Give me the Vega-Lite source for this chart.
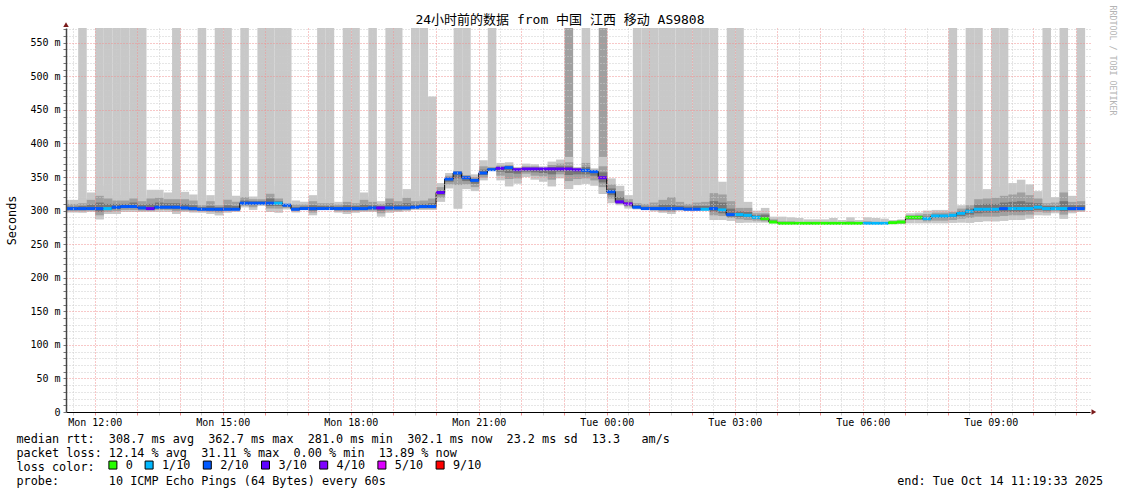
{
"$schema": "https://vega.github.io/schema/vega-lite/v6.json",
"width": 1024, "height": 384,
"autosize": {"type": "none"},
"padding": {"left": 66, "top": 28, "right": 31, "bottom": 82},
"background": "white",
"title": {"text": "24小时前的数据 from 中国 江西 移动 AS9808", "font": "DejaVu Sans Mono, Noto Sans CJK SC", "fontSize": 13, "fontWeight": "normal", "color": "#000", "anchor": "middle", "frame": "group", "dx": -18, "dy": 24, "offset": 2},
"config": {"view": {"stroke": null}},
"datasets": {"s": [
{"t":"2025-10-13T11:12","m":303,"L":2,"a":297,"b":316,"c":299,"d":310,"e":301,"f":306,"T":0},
{"t":"2025-10-13T11:24","m":303,"L":2,"a":297,"b":316,"c":299,"d":310,"e":301,"f":306,"T":0},
{"t":"2025-10-13T11:36","m":303,"L":2,"a":297,"b":318,"c":299,"d":311,"e":301,"f":307,"T":1},
{"t":"2025-10-13T11:48","m":303,"L":2,"a":298,"b":327,"c":300,"d":316,"e":302,"f":309,"T":0},
{"t":"2025-10-13T12:00","m":303,"L":2,"a":287,"b":337,"c":293,"d":322,"e":298,"f":312,"T":1},
{"t":"2025-10-13T12:12","m":303,"L":1,"a":295,"b":331,"c":298,"d":318,"e":301,"f":310,"T":1},
{"t":"2025-10-13T12:24","m":305,"L":2,"a":295,"b":323,"c":299,"d":315,"e":302,"f":310,"T":1},
{"t":"2025-10-13T12:36","m":306,"L":2,"a":298,"b":323,"c":301,"d":315,"e":304,"f":310,"T":1},
{"t":"2025-10-13T12:48","m":306,"L":2,"a":298,"b":328,"c":301,"d":318,"e":304,"f":312,"T":1},
{"t":"2025-10-13T13:00","m":304,"L":2,"a":298,"b":323,"c":300,"d":314,"e":302,"f":309,"T":1},
{"t":"2025-10-13T13:12","m":303,"L":3,"a":298,"b":331,"c":300,"d":318,"e":302,"f":310,"T":0},
{"t":"2025-10-13T13:24","m":305,"L":2,"a":298,"b":331,"c":301,"d":319,"e":303,"f":312,"T":0},
{"t":"2025-10-13T13:36","m":305,"L":2,"a":298,"b":327,"c":301,"d":317,"e":303,"f":311,"T":0},
{"t":"2025-10-13T13:48","m":305,"L":2,"a":295,"b":327,"c":299,"d":317,"e":302,"f":311,"T":1},
{"t":"2025-10-13T14:00","m":304,"L":2,"a":298,"b":328,"c":300,"d":317,"e":302,"f":310,"T":0},
{"t":"2025-10-13T14:12","m":303,"L":2,"a":297,"b":324,"c":299,"d":315,"e":301,"f":308,"T":0},
{"t":"2025-10-13T14:24","m":302,"L":2,"a":297,"b":312,"c":299,"d":308,"e":301,"f":305,"T":1},
{"t":"2025-10-13T14:36","m":302,"L":2,"a":295,"b":323,"c":298,"d":314,"e":300,"f":307,"T":0},
{"t":"2025-10-13T14:48","m":302,"L":2,"a":293,"b":312,"c":297,"d":308,"e":299,"f":305,"T":1},
{"t":"2025-10-13T15:00","m":302,"L":2,"a":297,"b":327,"c":299,"d":316,"e":301,"f":308,"T":1},
{"t":"2025-10-13T15:12","m":302,"L":2,"a":298,"b":322,"c":300,"d":313,"e":301,"f":307,"T":0},
{"t":"2025-10-13T15:24","m":311,"L":2,"a":305,"b":328,"c":307,"d":320,"e":309,"f":315,"T":1},
{"t":"2025-10-13T15:36","m":311,"L":2,"a":301,"b":321,"c":305,"d":317,"e":308,"f":314,"T":0},
{"t":"2025-10-13T15:48","m":311,"L":2,"a":307,"b":321,"c":309,"d":317,"e":310,"f":314,"T":1},
{"t":"2025-10-13T16:00","m":311,"L":2,"a":298,"b":337,"c":303,"d":325,"e":307,"f":318,"T":1},
{"t":"2025-10-13T16:12","m":311,"L":1,"a":297,"b":323,"c":303,"d":318,"e":307,"f":314,"T":1},
{"t":"2025-10-13T16:24","m":308,"L":2,"a":302,"b":311,"c":304,"d":310,"e":306,"f":309,"T":1},
{"t":"2025-10-13T16:36","m":302,"L":2,"a":297,"b":315,"c":299,"d":309,"e":301,"f":305,"T":0},
{"t":"2025-10-13T16:48","m":303,"L":2,"a":302,"b":313,"c":302,"d":309,"e":303,"f":306,"T":0},
{"t":"2025-10-13T17:00","m":303,"L":2,"a":293,"b":323,"c":297,"d":314,"e":300,"f":308,"T":0},
{"t":"2025-10-13T17:12","m":303,"L":2,"a":302,"b":317,"c":302,"d":311,"e":303,"f":307,"T":1},
{"t":"2025-10-13T17:24","m":303,"L":2,"a":301,"b":315,"c":302,"d":311,"e":302,"f":307,"T":1},
{"t":"2025-10-13T17:36","m":303,"L":2,"a":297,"b":313,"c":299,"d":309,"e":301,"f":306,"T":0},
{"t":"2025-10-13T17:48","m":303,"L":2,"a":295,"b":322,"c":298,"d":313,"e":301,"f":308,"T":1},
{"t":"2025-10-13T18:00","m":303,"L":2,"a":297,"b":317,"c":299,"d":311,"e":301,"f":307,"T":1},
{"t":"2025-10-13T18:12","m":303,"L":2,"a":298,"b":327,"c":300,"d":316,"e":302,"f":309,"T":0},
{"t":"2025-10-13T18:24","m":304,"L":2,"a":298,"b":321,"c":300,"d":313,"e":302,"f":308,"T":1},
{"t":"2025-10-13T18:36","m":304,"L":3,"a":291,"b":314,"c":296,"d":310,"e":300,"f":307,"T":0},
{"t":"2025-10-13T18:48","m":304,"L":2,"a":297,"b":330,"c":300,"d":318,"e":302,"f":311,"T":1},
{"t":"2025-10-13T19:00","m":304,"L":2,"a":298,"b":323,"c":300,"d":314,"e":302,"f":309,"T":1},
{"t":"2025-10-13T19:12","m":304,"L":2,"a":299,"b":332,"c":301,"d":319,"e":303,"f":311,"T":0},
{"t":"2025-10-13T19:24","m":305,"L":2,"a":301,"b":321,"c":303,"d":314,"e":304,"f":309,"T":1},
{"t":"2025-10-13T19:36","m":306,"L":2,"a":301,"b":322,"c":303,"d":315,"e":305,"f":310,"T":1},
{"t":"2025-10-13T19:48","m":306,"L":2,"a":301,"b":470,"c":303,"d":318,"e":305,"f":311,"T":0},
{"t":"2025-10-13T20:00","m":327,"L":3,"a":313,"b":341,"c":319,"d":335,"e":323,"f":330,"T":0},
{"t":"2025-10-13T20:12","m":347,"L":2,"a":333,"b":356,"c":339,"d":352,"e":343,"f":349,"T":0},
{"t":"2025-10-13T20:24","m":356,"L":2,"a":303,"b":361,"c":338,"d":359,"e":348,"f":357,"T":1},
{"t":"2025-10-13T20:36","m":349,"L":2,"a":332,"b":356,"c":339,"d":353,"e":344,"f":351,"T":1},
{"t":"2025-10-13T20:48","m":345,"L":2,"a":329,"b":354,"c":335,"d":350,"e":340,"f":347,"T":0},
{"t":"2025-10-13T21:00","m":356,"L":2,"a":345,"b":375,"c":349,"d":366,"e":353,"f":361,"T":0},
{"t":"2025-10-13T21:12","m":361,"L":2,"a":359,"b":368,"c":360,"d":365,"e":360,"f":363,"T":1},
{"t":"2025-10-13T21:24","m":363,"L":3,"a":345,"b":371,"c":352,"d":367,"e":358,"f":365,"T":0},
{"t":"2025-10-13T21:36","m":364,"L":2,"a":336,"b":372,"c":347,"d":368,"e":356,"f":366,"T":0},
{"t":"2025-10-13T21:48","m":361,"L":3,"a":340,"b":365,"c":348,"d":363,"e":355,"f":362,"T":0},
{"t":"2025-10-13T22:00","m":362,"L":3,"a":350,"b":370,"c":355,"d":366,"e":358,"f":364,"T":0},
{"t":"2025-10-13T22:12","m":362,"L":3,"a":346,"b":369,"c":352,"d":366,"e":357,"f":364,"T":0},
{"t":"2025-10-13T22:24","m":362,"L":3,"a":343,"b":366,"c":351,"d":364,"e":356,"f":363,"T":0},
{"t":"2025-10-13T22:36","m":362,"L":3,"a":336,"b":373,"c":346,"d":368,"e":354,"f":365,"T":0},
{"t":"2025-10-13T22:48","m":362,"L":3,"a":348,"b":376,"c":354,"d":370,"e":358,"f":366,"T":0},
{"t":"2025-10-13T23:00","m":362,"L":3,"a":332,"b":380,"c":344,"d":372,"e":353,"f":366,"T":2},
{"t":"2025-10-13T23:12","m":361,"L":3,"a":338,"b":365,"c":347,"d":363,"e":354,"f":362,"T":0},
{"t":"2025-10-13T23:24","m":360,"L":2,"a":340,"b":380,"c":348,"d":371,"e":354,"f":365,"T":1},
{"t":"2025-10-13T23:36","m":358,"L":2,"a":337,"b":363,"c":345,"d":361,"e":352,"f":359,"T":0},
{"t":"2025-10-13T23:48","m":349,"L":3,"a":325,"b":380,"c":335,"d":366,"e":342,"f":357,"T":2},
{"t":"2025-10-14T00:00","m":328,"L":2,"a":311,"b":348,"c":318,"d":339,"e":323,"f":333,"T":0},
{"t":"2025-10-14T00:12","m":313,"L":3,"a":308,"b":337,"c":310,"d":329,"e":312,"f":320,"T":0},
{"t":"2025-10-14T00:24","m":310,"L":4,"a":303,"b":323,"c":306,"d":317,"e":308,"f":313,"T":0},
{"t":"2025-10-14T00:36","m":305,"L":2,"a":302,"b":316,"c":304,"d":311,"e":304,"f":308,"T":1},
{"t":"2025-10-14T00:48","m":303,"L":2,"a":302,"b":315,"c":302,"d":310,"e":303,"f":306,"T":1},
{"t":"2025-10-14T01:00","m":303,"L":2,"a":299,"b":315,"c":301,"d":312,"e":302,"f":306,"T":1},
{"t":"2025-10-14T01:12","m":303,"L":2,"a":297,"b":320,"c":299,"d":316,"e":301,"f":309,"T":1},
{"t":"2025-10-14T01:24","m":303,"L":2,"a":295,"b":326,"c":298,"d":320,"e":301,"f":309,"T":1},
{"t":"2025-10-14T01:36","m":303,"L":2,"a":300,"b":319,"c":301,"d":313,"e":302,"f":307,"T":1},
{"t":"2025-10-14T01:48","m":302,"L":2,"a":300,"b":317,"c":301,"d":310,"e":301,"f":306,"T":1},
{"t":"2025-10-14T02:00","m":302,"L":2,"a":300,"b":320,"c":301,"d":312,"e":301,"f":307,"T":1},
{"t":"2025-10-14T02:12","m":302,"L":1,"a":300,"b":322,"c":301,"d":313,"e":301,"f":307,"T":1},
{"t":"2025-10-14T02:24","m":303,"L":2,"a":286,"b":345,"c":293,"d":326,"e":298,"f":314,"T":1},
{"t":"2025-10-14T02:36","m":301,"L":1,"a":286,"b":343,"c":292,"d":324,"e":296,"f":312,"T":0},
{"t":"2025-10-14T02:48","m":294,"L":2,"a":285,"b":330,"c":289,"d":314,"e":291,"f":303,"T":1},
{"t":"2025-10-14T03:00","m":294,"L":1,"a":282,"b":313,"c":287,"d":304,"e":290,"f":299,"T":1},
{"t":"2025-10-14T03:12","m":293,"L":1,"a":282,"b":313,"c":286,"d":304,"e":290,"f":298,"T":0},
{"t":"2025-10-14T03:24","m":290,"L":1,"a":282,"b":300,"c":285,"d":296,"e":288,"f":293,"T":0},
{"t":"2025-10-14T03:36","m":288,"L":0,"a":282,"b":304,"c":284,"d":296,"e":286,"f":294,"T":0},
{"t":"2025-10-14T03:48","m":283,"L":0,"a":281,"b":291,"c":282,"d":287,"e":282,"f":285,"T":0},
{"t":"2025-10-14T04:00","m":281,"L":0,"a":280,"b":291,"c":280,"d":284,"e":280,"f":282,"T":0},
{"t":"2025-10-14T04:12","m":281,"L":0,"a":280,"b":290,"c":280,"d":284,"e":280,"f":282,"T":0},
{"t":"2025-10-14T04:24","m":281,"L":0,"a":280,"b":289,"c":280,"d":283,"e":280,"f":282,"T":0},
{"t":"2025-10-14T04:36","m":281,"L":0,"a":280,"b":287,"c":280,"d":283,"e":280,"f":282,"T":0},
{"t":"2025-10-14T04:48","m":281,"L":0,"a":280,"b":287,"c":280,"d":283,"e":280,"f":282,"T":0},
{"t":"2025-10-14T05:00","m":281,"L":0,"a":280,"b":287,"c":280,"d":283,"e":280,"f":282,"T":0},
{"t":"2025-10-14T05:12","m":281,"L":0,"a":280,"b":289,"c":280,"d":283,"e":280,"f":282,"T":0},
{"t":"2025-10-14T05:24","m":281,"L":0,"a":280,"b":286,"c":280,"d":283,"e":280,"f":282,"T":0},
{"t":"2025-10-14T05:36","m":281,"L":0,"a":280,"b":290,"c":280,"d":284,"e":280,"f":282,"T":0},
{"t":"2025-10-14T05:48","m":281,"L":0,"a":280,"b":286,"c":280,"d":283,"e":280,"f":282,"T":0},
{"t":"2025-10-14T06:00","m":281,"L":1,"a":280,"b":290,"c":280,"d":284,"e":280,"f":282,"T":0},
{"t":"2025-10-14T06:12","m":281,"L":1,"a":280,"b":289,"c":280,"d":283,"e":280,"f":282,"T":0},
{"t":"2025-10-14T06:24","m":281,"L":1,"a":280,"b":288,"c":280,"d":283,"e":280,"f":282,"T":0},
{"t":"2025-10-14T06:36","m":282,"L":0,"a":280,"b":286,"c":281,"d":284,"e":281,"f":283,"T":0},
{"t":"2025-10-14T06:48","m":283,"L":0,"a":280,"b":287,"c":281,"d":285,"e":282,"f":284,"T":0},
{"t":"2025-10-14T07:00","m":290,"L":0,"a":281,"b":296,"c":286,"d":293,"e":287,"f":292,"T":0},
{"t":"2025-10-14T07:12","m":290,"L":0,"a":281,"b":297,"c":286,"d":294,"e":287,"f":292,"T":0},
{"t":"2025-10-14T07:24","m":288,"L":1,"a":281,"b":300,"c":284,"d":295,"e":286,"f":291,"T":0},
{"t":"2025-10-14T07:36","m":292,"L":1,"a":281,"b":301,"c":285,"d":297,"e":289,"f":294,"T":0},
{"t":"2025-10-14T07:48","m":292,"L":1,"a":281,"b":301,"c":285,"d":297,"e":289,"f":294,"T":0},
{"t":"2025-10-14T08:00","m":293,"L":1,"a":282,"b":301,"c":286,"d":298,"e":290,"f":295,"T":1},
{"t":"2025-10-14T08:12","m":296,"L":1,"a":282,"b":308,"c":288,"d":303,"e":292,"f":299,"T":0},
{"t":"2025-10-14T08:24","m":299,"L":1,"a":282,"b":316,"c":289,"d":308,"e":294,"f":303,"T":1},
{"t":"2025-10-14T08:36","m":302,"L":1,"a":283,"b":330,"c":291,"d":317,"e":296,"f":309,"T":1},
{"t":"2025-10-14T08:48","m":302,"L":1,"a":284,"b":332,"c":291,"d":318,"e":297,"f":310,"T":0},
{"t":"2025-10-14T09:00","m":302,"L":1,"a":284,"b":335,"c":291,"d":319,"e":297,"f":310,"T":1},
{"t":"2025-10-14T09:12","m":303,"L":2,"a":285,"b":338,"c":292,"d":322,"e":298,"f":312,"T":1},
{"t":"2025-10-14T09:24","m":303,"L":1,"a":286,"b":341,"c":293,"d":324,"e":298,"f":313,"T":0},
{"t":"2025-10-14T09:36","m":303,"L":1,"a":286,"b":346,"c":293,"d":327,"e":298,"f":314,"T":0},
{"t":"2025-10-14T09:48","m":303,"L":1,"a":288,"b":339,"c":294,"d":323,"e":299,"f":312,"T":0},
{"t":"2025-10-14T10:00","m":305,"L":1,"a":293,"b":329,"c":298,"d":318,"e":301,"f":311,"T":0},
{"t":"2025-10-14T10:12","m":303,"L":1,"a":293,"b":317,"c":297,"d":311,"e":300,"f":307,"T":1},
{"t":"2025-10-14T10:24","m":303,"L":1,"a":296,"b":320,"c":299,"d":312,"e":301,"f":307,"T":0},
{"t":"2025-10-14T10:36","m":303,"L":1,"a":288,"b":346,"c":294,"d":327,"e":299,"f":314,"T":1},
{"t":"2025-10-14T10:48","m":303,"L":2,"a":296,"b":322,"c":299,"d":313,"e":301,"f":308,"T":0},
{"t":"2025-10-14T11:00","m":303,"L":2,"a":298,"b":318,"c":300,"d":314,"e":302,"f":308,"T":1}
],
"arrowTop": [{"t": "2025-10-13T11:19:33", "m": 577}],
"arrowRight": [{"t": "2025-10-14T11:25:00", "m": 0}]
},
"resolve": {"scale": {"y": "independent"}},
"layer": [
{
"data": {"name": "s"},
"layer": [
{"transform": [{"filter": "datum.T > 0"}],
 "mark": {"type": "rect", "clip": true},
 "encoding": {
  "x": {"field": "t", "type": "temporal", "timeUnit": {"unit": "yearmonthdatehoursminutes", "step": 12}},
  "y": {"field": "a", "type": "quantitative"},
  "y2": {"datum": 572},
  "color": {"condition": {"test": "datum.T == 2", "value": "#a0a0a0"}, "value": "#c8c8c8"}
 }},
{"mark": {"type": "rect", "clip": true, "color": "#c8c8c8"},
 "encoding": {
  "x": {"field": "t", "type": "temporal", "timeUnit": {"unit": "yearmonthdatehoursminutes", "step": 12},
   "scale": {"domain": [{"year": 2025, "month": 10, "date": 13, "hours": 11, "minutes": 19, "seconds": 33}, {"year": 2025, "month": 10, "date": 14, "hours": 11, "minutes": 19, "seconds": 33}], "nice": false},
   "title": ["median rtt: \u00a0308.7 ms avg \u00a0362.7 ms max \u00a0281.0 ms min \u00a0302.1 ms now \u00a023.2 ms sd \u00a013.3 \u00a0\u00a0am/s", "packet loss: 12.14 % avg \u00a031.11 % max \u00a00.00 % min \u00a013.89 % now", "loss color:", "probe: \u00a0\u00a0\u00a0\u00a0\u00a0\u00a010 ICMP Echo Pings (64 Bytes) every 60s \u00a0\u00a0\u00a0\u00a0\u00a0\u00a0\u00a0\u00a0\u00a0\u00a0\u00a0\u00a0\u00a0\u00a0\u00a0\u00a0\u00a0\u00a0\u00a0\u00a0\u00a0\u00a0\u00a0\u00a0\u00a0\u00a0\u00a0\u00a0\u00a0\u00a0\u00a0\u00a0\u00a0\u00a0\u00a0\u00a0\u00a0\u00a0\u00a0\u00a0\u00a0\u00a0\u00a0\u00a0\u00a0\u00a0\u00a0\u00a0\u00a0\u00a0\u00a0\u00a0\u00a0\u00a0\u00a0\u00a0\u00a0\u00a0\u00a0\u00a0\u00a0\u00a0\u00a0\u00a0\u00a0\u00a0\u00a0\u00a0\u00a0\u00a0\u00a0end: Tue Oct 14 11:19:33 2025"],
   "axis": {
    "values": [
{"year":2025,"month":10,"date":13,"hours":11,"minutes":30},{"year":2025,"month":10,"date":13,"hours":12,"minutes":0},{"year":2025,"month":10,"date":13,"hours":12,"minutes":30},{"year":2025,"month":10,"date":13,"hours":13,"minutes":0},{"year":2025,"month":10,"date":13,"hours":13,"minutes":30},{"year":2025,"month":10,"date":13,"hours":14,"minutes":0},{"year":2025,"month":10,"date":13,"hours":14,"minutes":30},{"year":2025,"month":10,"date":13,"hours":15,"minutes":0},{"year":2025,"month":10,"date":13,"hours":15,"minutes":30},{"year":2025,"month":10,"date":13,"hours":16,"minutes":0},{"year":2025,"month":10,"date":13,"hours":16,"minutes":30},{"year":2025,"month":10,"date":13,"hours":17,"minutes":0},{"year":2025,"month":10,"date":13,"hours":17,"minutes":30},{"year":2025,"month":10,"date":13,"hours":18,"minutes":0},{"year":2025,"month":10,"date":13,"hours":18,"minutes":30},{"year":2025,"month":10,"date":13,"hours":19,"minutes":0},{"year":2025,"month":10,"date":13,"hours":19,"minutes":30},{"year":2025,"month":10,"date":13,"hours":20,"minutes":0},{"year":2025,"month":10,"date":13,"hours":20,"minutes":30},{"year":2025,"month":10,"date":13,"hours":21,"minutes":0},{"year":2025,"month":10,"date":13,"hours":21,"minutes":30},{"year":2025,"month":10,"date":13,"hours":22,"minutes":0},{"year":2025,"month":10,"date":13,"hours":22,"minutes":30},{"year":2025,"month":10,"date":13,"hours":23,"minutes":0},{"year":2025,"month":10,"date":13,"hours":23,"minutes":30},
{"year":2025,"month":10,"date":14,"hours":0,"minutes":0},{"year":2025,"month":10,"date":14,"hours":0,"minutes":30},{"year":2025,"month":10,"date":14,"hours":1,"minutes":0},{"year":2025,"month":10,"date":14,"hours":1,"minutes":30},{"year":2025,"month":10,"date":14,"hours":2,"minutes":0},{"year":2025,"month":10,"date":14,"hours":2,"minutes":30},{"year":2025,"month":10,"date":14,"hours":3,"minutes":0},{"year":2025,"month":10,"date":14,"hours":3,"minutes":30},{"year":2025,"month":10,"date":14,"hours":4,"minutes":0},{"year":2025,"month":10,"date":14,"hours":4,"minutes":30},{"year":2025,"month":10,"date":14,"hours":5,"minutes":0},{"year":2025,"month":10,"date":14,"hours":5,"minutes":30},{"year":2025,"month":10,"date":14,"hours":6,"minutes":0},{"year":2025,"month":10,"date":14,"hours":6,"minutes":30},{"year":2025,"month":10,"date":14,"hours":7,"minutes":0},{"year":2025,"month":10,"date":14,"hours":7,"minutes":30},{"year":2025,"month":10,"date":14,"hours":8,"minutes":0},{"year":2025,"month":10,"date":14,"hours":8,"minutes":30},{"year":2025,"month":10,"date":14,"hours":9,"minutes":0},{"year":2025,"month":10,"date":14,"hours":9,"minutes":30},{"year":2025,"month":10,"date":14,"hours":10,"minutes":0},{"year":2025,"month":10,"date":14,"hours":10,"minutes":30},{"year":2025,"month":10,"date":14,"hours":11,"minutes":0}],
    "tickCount": 200,
    "labelExpr": "(minutes(datum.value) == 0 && hours(datum.value) % 3 == 0) ? timeFormat(datum.value, '%a %H:%M') : ''",
    "labelFont": "DejaVu Sans Mono", "labelFontSize": 10, "labelColor": "#000", "labelPadding": 2, "labelOverlap": false, "labelFlush": false,
    "tickSize": 3, "tickColor": {"condition": {"test": "minutes(datum.value) == 0", "value": "#f09090"}, "value": "#cccccc"},
    "grid": true, "gridColor": {"condition": {"test": "minutes(datum.value) == 0", "value": "#f09090"}, "value": "#cccccc"}, "gridDash": [1, 2], "gridWidth": 1,
    "domainColor": "#000", "domainWidth": 1, "zindex": 1,
    "titleFont": "DejaVu Sans Mono", "titleFontSize": 11.8, "titleFontWeight": "normal", "titleColor": "#000",
    "titleAnchor": "start", "titleAlign": "left", "titleBaseline": "alphabetic", "titleX": -50, "titleY": 30, "titleLineHeight": 14
   }},
  "y": {"field": "a", "type": "quantitative", "scale": {"domain": [0, 572], "nice": false, "zero": false},
   "title": "Seconds",
   "axis": {
    "values": [0,10,20,30,40,50,60,70,80,90,100,110,120,130,140,150,160,170,180,190,200,210,220,230,240,250,260,270,280,290,300,310,320,330,340,350,360,370,380,390,400,410,420,430,440,450,460,470,480,490,500,510,520,530,540,550,560,570],
    "tickCount": 200,
    "labelExpr": "datum.value == 0 ? '0\u00a0\u00a0' : (datum.value % 50 ? '' : datum.value + ' m')",
    "labelFont": "DejaVu Sans Mono", "labelFontSize": 10, "labelColor": "#000", "labelPadding": 3, "labelOverlap": false, "labelFlush": false,
    "tickSize": 3, "tickColor": "#777",
    "grid": true, "gridColor": {"condition": {"test": "datum.value % 50 == 0", "value": "#f09090"}, "value": "#cccccc"}, "gridDash": [1, 2], "gridWidth": 1,
    "domainColor": "#444", "domainWidth": 1.5, "zindex": 1,
    "titleFont": "DejaVu Sans Mono", "titleFontSize": 11.8, "titleFontWeight": "normal", "titleColor": "#000", "titlePadding": 12
   }},
  "y2": {"field": "b"}
 }},
{"mark": {"type": "rect", "clip": true, "color": "#a0a0a0"},
 "encoding": {
  "x": {"field": "t", "type": "temporal", "timeUnit": {"unit": "yearmonthdatehoursminutes", "step": 12}},
  "y": {"field": "c", "type": "quantitative"},
  "y2": {"field": "d"}
 }},
{"mark": {"type": "rect", "clip": true, "color": "#767676"},
 "encoding": {
  "x": {"field": "t", "type": "temporal", "timeUnit": {"unit": "yearmonthdatehoursminutes", "step": 12}},
  "y": {"field": "e", "type": "quantitative"},
  "y2": {"field": "f"}
 }},
{"mark": {"type": "line", "interpolate": "step-after", "color": "#000", "strokeWidth": 1, "clip": true},
 "encoding": {
  "x": {"field": "t", "type": "temporal"},
  "y": {"field": "m", "type": "quantitative"}
 }},
{"mark": {"type": "tick", "orient": "horizontal", "size": 8.6, "thickness": 3, "clip": true, "opacity": 1},
 "encoding": {
  "x": {"field": "t", "type": "temporal", "timeUnit": {"unit": "yearmonthdatehoursminutes", "step": 12}, "bandPosition": 0.5},
  "y": {"field": "m", "type": "quantitative"},
  "color": {"field": "L", "type": "ordinal",
   "scale": {"domain": [0, 1, 2, 3, 4, 5, 6], "range": ["#26ff00", "#00b8ff", "#0059ff", "#5e00ff", "#7e00ff", "#dd00ff", "#ff0000"]},
   "legend": {"orient": "none", "legendX": 41, "legendY": 431, "direction": "horizontal", "padding": 0, "title": null,
    "labelExpr": "['0','1/10','2/10','3/10','4/10','5/10','9/10'][datum.value]",
    "labelFont": "DejaVu Sans Mono", "labelFontSize": 11.8, "labelColor": "#000", "labelOffset": 7, "columnPadding": 9.2,
    "symbolType": "square", "symbolSize": 64, "symbolStrokeColor": "#000", "symbolStrokeWidth": 1, "symbolOpacity": 1}
  }
 }},
{"data": {"name": "arrowRight"},
 "mark": {"type": "point", "shape": "triangle-right", "filled": true, "color": "#7a1a1a", "size": 30, "opacity": 1, "clip": false},
 "encoding": {
  "x": {"field": "t", "type": "temporal"},
  "y": {"field": "m", "type": "quantitative"}
 }}
]
},
{"data": {"name": "arrowTop"},
 "mark": {"type": "point", "shape": "triangle-up", "filled": true, "color": "#7a1a1a", "size": 30, "opacity": 1, "clip": false},
 "encoding": {
  "x": {"field": "t", "type": "temporal"},
  "y": {"field": "m", "type": "quantitative", "scale": {"domain": [0, 572], "nice": false, "zero": false},
   "axis": {"orient": "right", "labels": false, "ticks": false, "domain": false, "grid": false,
    "title": "RRDTOOL / TOBI OETIKER", "titleAngle": 90, "titleFont": "DejaVu Sans Mono", "titleFontSize": 8.3, "titleFontWeight": "normal", "titleColor": "#b4b4b4",
    "titleX": 21, "titleY": -23, "titleAlign": "left", "titleBaseline": "middle"}}
 }}
]
}
